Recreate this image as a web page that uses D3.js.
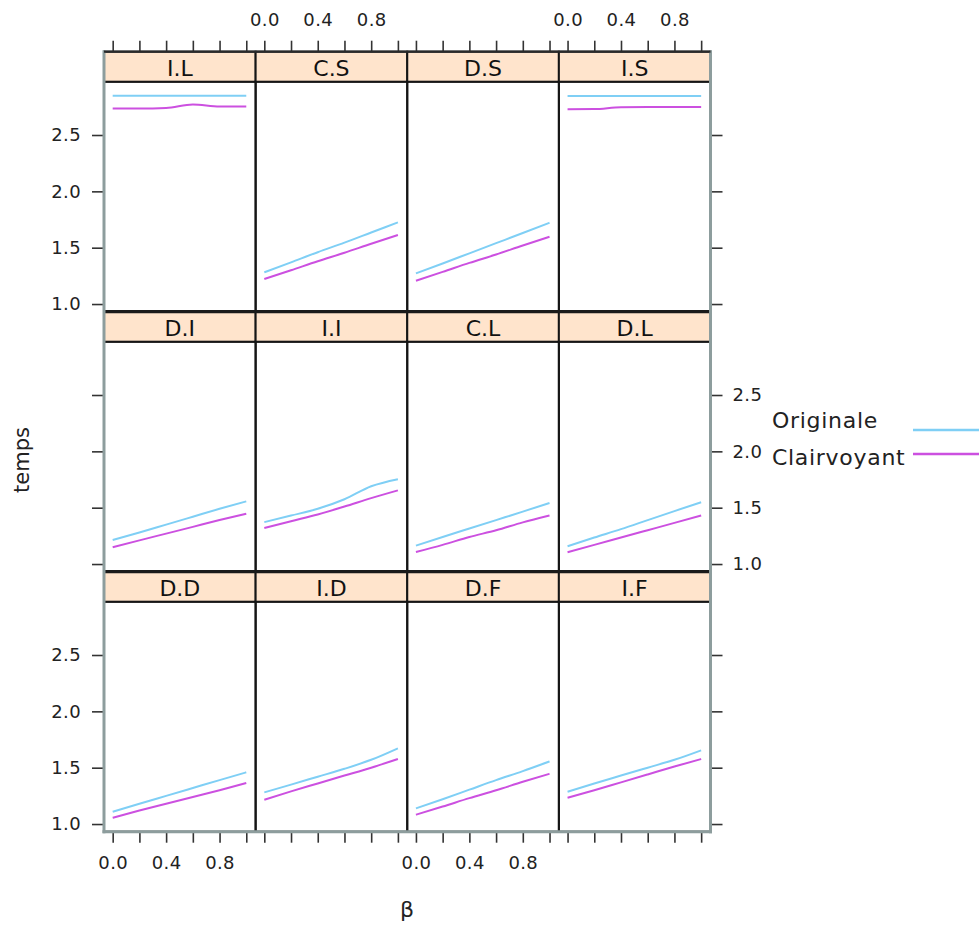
<!DOCTYPE html>
<html>
<head>
<meta charset="utf-8">
<script src="https://cdn.jsdelivr.net/npm/d3@7"></script>
<style>
  html, body { margin: 0; padding: 0; background: #fff; }
  svg { display: block; font-family: "DejaVu Sans", sans-serif; }
</style>
</head>
<body>
<svg id="chart" width="979" height="927"></svg>
<script>
// Conditioning levels, laid out row by row (top row first)
const panelNames = [
  "I.L", "C.S", "D.S", "I.S",
  "D.I", "I.I", "C.L", "D.L",
  "D.D", "I.D", "D.F", "I.F"
];

// β values at which temps was measured
const betaValues = [0, 0.2, 0.4, 0.6, 0.8, 1.0];

// temps for the "Originale" series, one array per panel
const originale = {
  "I.L": [2.848, 2.848, 2.848, 2.848, 2.848, 2.848],
  "C.S": [1.281, 1.370, 1.460, 1.545, 1.635, 1.725],
  "D.S": [1.272, 1.360, 1.450, 1.540, 1.630, 1.721],
  "I.S": [2.846, 2.846, 2.846, 2.846, 2.846, 2.846],
  "D.I": [1.214, 1.280, 1.350, 1.420, 1.490, 1.556],
  "I.I": [1.372, 1.430, 1.490, 1.575, 1.690, 1.753],
  "C.L": [1.163, 1.240, 1.315, 1.390, 1.465, 1.542],
  "D.L": [1.158, 1.235, 1.310, 1.390, 1.470, 1.548],
  "D.D": [1.109, 1.180, 1.250, 1.320, 1.390, 1.459],
  "I.D": [1.281, 1.350, 1.420, 1.490, 1.570, 1.672],
  "D.F": [1.139, 1.220, 1.305, 1.390, 1.470, 1.556],
  "I.F": [1.287, 1.360, 1.430, 1.500, 1.570, 1.654]
};

// temps for the "Clairvoyant" series, one array per panel
const clairvoyant = {
  "I.L": [2.735, 2.735, 2.740, 2.770, 2.752, 2.752],
  "C.S": [1.222, 1.300, 1.380, 1.455, 1.535, 1.612],
  "D.S": [1.207, 1.285, 1.365, 1.440, 1.520, 1.597],
  "I.S": [2.728, 2.730, 2.747, 2.748, 2.748, 2.748],
  "D.I": [1.149, 1.210, 1.270, 1.330, 1.390, 1.446],
  "I.I": [1.319, 1.380, 1.440, 1.510, 1.585, 1.654],
  "C.L": [1.107, 1.170, 1.240, 1.300, 1.370, 1.431],
  "D.L": [1.104, 1.170, 1.235, 1.300, 1.365, 1.431],
  "D.D": [1.056, 1.120, 1.180, 1.240, 1.300, 1.364],
  "I.D": [1.216, 1.290, 1.360, 1.430, 1.500, 1.577],
  "D.F": [1.083, 1.155, 1.230, 1.300, 1.375, 1.446],
  "I.F": [1.233, 1.300, 1.370, 1.440, 1.510, 1.577]
};

const seriesNames = ["Originale", "Clairvoyant"];
const seriesColors = ["#7fcff5", "#cc50e0"];

const xTicks = [0, 0.2, 0.4, 0.6, 0.8, 1.0];
const xLabelled = [0, 0.4, 0.8];
const yTicks = [1.0, 1.5, 2.0, 2.5];

// Layout
const nCols = 4, nRows = 3;
const gridLeft = 104, gridRight = 710.5, gridTop = 51.7;
const colW = (gridRight - gridLeft) / nCols;
const stripH = 30, panelH = 230, rowH = stripH + panelH;
const xDomain = [-0.065, 1.07];
const yDomain = [0.932, 2.973];

const svg = d3.select("#chart");
const fmt = d3.format(".1f");

const line = (xs, ys) => d3.line().curve(d3.curveMonotoneX).x(d => xs(d[0])).y(d => ys(d[1]));

panelNames.forEach((name, i) => {
  const col = i % nCols, row = Math.floor(i / nCols);
  const x0 = gridLeft + col * colW;
  const stripTop = gridTop + row * rowH;
  const pTop = stripTop + stripH, pBot = pTop + panelH;

  const xs = d3.scaleLinear().domain(xDomain).range([x0, x0 + colW]);
  const ys = d3.scaleLinear().domain(yDomain).range([pBot, pTop]);

  const g = svg.append("g");

  // series lines
  [originale, clairvoyant].forEach((src, k) => {
    const pts = betaValues.map((b, j) => [b, src[name][j]]);
    g.append("path")
      .attr("d", line(xs, ys)(pts))
      .attr("fill", "none")
      .attr("stroke", seriesColors[k])
      .attr("stroke-width", 2);
  });

  // panel frame
  g.append("rect")
    .attr("x", x0).attr("y", pTop).attr("width", colW).attr("height", panelH)
    .attr("fill", "none").attr("stroke", "#151515").attr("stroke-width", 2);

  // strip
  g.append("rect")
    .attr("x", x0).attr("y", stripTop).attr("width", colW).attr("height", stripH)
    .attr("fill", "#ffe4cc").attr("stroke", "#151515").attr("stroke-width", 2);
  g.append("text")
    .attr("x", x0 + colW / 2).attr("y", stripTop + 24.5)
    .attr("text-anchor", "middle")
    .attr("font-size", 22).attr("fill", "#111")
    .text(name);

  // top axis on the first row, bottom axis on the last row
  const xAxisStyle = (sel) => {
    sel.select(".domain").remove();
    sel.selectAll(".tick line").attr("stroke", "#333").attr("stroke-width", 1.6);
    sel.selectAll(".tick text").attr("font-size", 18).attr("fill", "#222")
      .attr("letter-spacing", 0.4)
      .attr("font-family", "DejaVu Sans, sans-serif");
  };
  if (row === 0) {
    const showLab = col % 2 === 1;
    svg.append("g").attr("transform", `translate(0,${stripTop})`)
      .call(d3.axisTop(xs).tickValues(xTicks).tickSize(11).tickPadding(15)
        .tickFormat(d => showLab && xLabelled.includes(d) ? fmt(d) : ""))
      .call(xAxisStyle);
  }
  if (row === nRows - 1) {
    const showLab = col % 2 === 0;
    svg.append("g").attr("transform", `translate(0,${pBot})`)
      .call(d3.axisBottom(xs).tickValues(xTicks).tickSize(11).tickPadding(14)
        .tickFormat(d => showLab && xLabelled.includes(d) ? fmt(d) : ""))
      .call(xAxisStyle);
  }

  // left axis on the first column, right axis on the last column
  const yAxisStyle = (sel) => {
    sel.select(".domain").remove();
    sel.selectAll(".tick line").attr("stroke", "#333").attr("stroke-width", 1.6);
    sel.selectAll(".tick text").attr("font-size", 18).attr("fill", "#222")
      .attr("letter-spacing", 0.4)
      .attr("font-family", "DejaVu Sans, sans-serif");
  };
  if (col === 0) {
    const showLab = row % 2 === 0;
    svg.append("g").attr("transform", `translate(${x0},0)`)
      .call(d3.axisLeft(ys).tickValues(yTicks).tickSize(12).tickPadding(11)
        .tickFormat(d => showLab ? fmt(d) : ""))
      .call(yAxisStyle);
  }
  if (col === nCols - 1) {
    const showLab = row % 2 === 1;
    svg.append("g").attr("transform", `translate(${x0 + colW},0)`)
      .call(d3.axisRight(ys).tickValues(yTicks).tickSize(12).tickPadding(10)
        .tickFormat(d => showLab ? fmt(d) : ""))
      .call(yAxisStyle);
  }
});

// heavier rule where a strip sits on the panel row above
for (let r = 1; r < nRows; r++) {
  const y = gridTop + r * rowH;
  svg.append("line")
    .attr("x1", gridLeft).attr("x2", gridRight).attr("y1", y).attr("y2", y)
    .attr("stroke", "#1a1a1a").attr("stroke-width", 3.2);
}

// outer frame edges
const gridBottom = gridTop + nRows * rowH;
const edge = "#8d9d9d";
[[gridLeft, gridTop, gridLeft, gridBottom],
 [gridRight, gridTop, gridRight, gridBottom],
 [gridLeft, gridBottom, gridRight, gridBottom]].forEach(([a, b, c, d]) => {
  svg.append("line").attr("x1", a).attr("y1", b).attr("x2", c).attr("y2", d)
    .attr("stroke", edge).attr("stroke-width", 3).attr("stroke-linecap", "square");
});
svg.append("line")
  .attr("x1", gridLeft).attr("x2", gridRight).attr("y1", gridTop).attr("y2", gridTop)
  .attr("stroke", "#2a2a2a").attr("stroke-width", 2.2);

// axis titles
svg.append("text")
  .attr("transform", "translate(29,460) rotate(-90)")
  .attr("text-anchor", "middle").attr("font-size", 21).attr("fill", "#222")
  .text("temps");
svg.append("text")
  .attr("x", 407).attr("y", 917)
  .attr("text-anchor", "middle").attr("font-size", 22).attr("fill", "#222")
  .text("β");

// legend
const legendY = [428, 465];
const legendLineY = [430, 454];
seriesNames.forEach((s, k) => {
  svg.append("text")
    .attr("x", 772).attr("y", legendY[k])
    .attr("font-size", 22).attr("letter-spacing", 0.7).attr("fill", "#222")
    .text(s);
  svg.append("line")
    .attr("x1", 913).attr("x2", 985)
    .attr("y1", legendLineY[k]).attr("y2", legendLineY[k])
    .attr("stroke", seriesColors[k]).attr("stroke-width", 2.5);
});
</script>
</body>
</html>
